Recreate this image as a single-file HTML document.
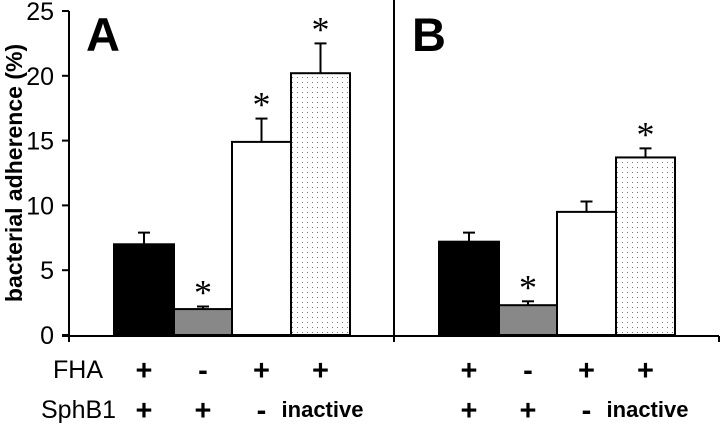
<!DOCTYPE html>
<html><head><meta charset="utf-8"><style>
body{margin:0;background:#fff}
svg{display:block;font-family:"Liberation Sans",Arial,sans-serif}
</style></head><body>
<svg id="c" width="720" height="424" viewBox="0 0 720 424">
<defs><pattern id="dots" width="5" height="5" patternUnits="userSpaceOnUse"><rect width="5" height="5" fill="#fff"/><rect x="2" y="2" width="1" height="1" fill="#777"/></pattern></defs>
<g id="g"></g>
</svg>
<script>
const categories=["FHA+ SphB1+","FHA- SphB1+","FHA+ SphB1-","FHA+ SphB1 inactive"];
const valuesA=[7.0,2.0,14.9,20.2];
const errorsA=[0.9,0.2,1.8,2.3];
const starsA=[false,true,true,true];
const valuesB=[7.2,2.3,9.5,13.7];
const errorsB=[0.7,0.3,0.8,0.7];
const starsB=[false,true,false,true];
const yTicks=[0,5,10,15,20,25];
const fhaLabels=["+","-","+","+"];
const sphLabels=["+","+","-","inactive"];

const NS="http://www.w3.org/2000/svg";
const g=document.getElementById('g');
const y=v=>335-v*12.96;
function el(t,a,txt){const e=document.createElementNS(NS,t);for(const k in a)e.setAttribute(k,a[k]);if(txt!=null)e.textContent=txt;g.appendChild(e);return e;}
const fills=["#000","#888","#fff","url(#dots)"];
const panels=[{vals:valuesA,errs:errorsA,stars:starsA,edges:[114,174,232,291,350],name:"a"},
{vals:valuesB,errs:errorsB,stars:starsB,edges:[439,499,557,616,675],name:"b"}];
let e=el('line',{x1:69,y1:y(25),x2:69,y2:342,stroke:'#000','stroke-width':2});


e=el('line',{x1:62,y1:336,x2:719,y2:336,stroke:'#000','stroke-width':2});


e=el('line',{x1:394,y1:0,x2:394,y2:342,stroke:'#000','stroke-width':2});


e=el('line',{x1:719,y1:336,x2:719,y2:342,stroke:'#000','stroke-width':2});


yTicks.forEach(t=>{
  let l=el('line',{x1:62,y1:y(t),x2:69,y2:y(t),stroke:'#000','stroke-width':2});
  
  
  let tx=el('text',{x:54,y:y(t)+9,'text-anchor':'end','font-size':25},t);
  
  
});
e=el('text',{transform:'translate(22,173) rotate(-90)','text-anchor':'middle','font-size':23,'font-weight':'bold'},'bacterial adherence (%)');


e=el('text',{x:86,y:51,'font-size':47,'font-weight':'bold'},'A');


e=el('text',{x:412,y:51,'font-size':47,'font-weight':'bold'},'B');


e=el('text',{x:53,y:378,'font-size':25},'FHA');


e=el('text',{x:41,y:418,'font-size':25},'SphB1');


panels.forEach(p=>{
  p.vals.forEach((v,i)=>{
    const x0=p.edges[i],x1=p.edges[i+1],cx=(x0+x1)/2,top=y(v),et=y(v+p.errs[i]);
    let ln=el('line',{x1:cx,y1:top,x2:cx,y2:et,stroke:'#000','stroke-width':2});
    
    
    let cap=el('line',{x1:cx-6,y1:et,x2:cx+6,y2:et,stroke:'#000','stroke-width':2});
    
    
    let r=el('rect',{x:x0,y:top,width:x1-x0,height:335-top,fill:fills[i],stroke:'#000','stroke-width':2});
    
    
    if(p.stars[i]){let s=el('text',{x:cx,y:et-2,'text-anchor':'middle','font-size':36,'font-family':'Liberation Serif, serif'},'*');
      
      }
    let f=el('text',{x:cx,y:380,'text-anchor':'middle','font-size':29,'font-weight':'bold'},fhaLabels[i]);
    
    
    let s2=el('text',{x:i==3?cx+2:cx,y:i==3?417:420,'text-anchor':'middle','font-size':i==3?22:29,'font-weight':'bold'},sphLabels[i]);
    
    
  });
});
</script>
</body></html>
